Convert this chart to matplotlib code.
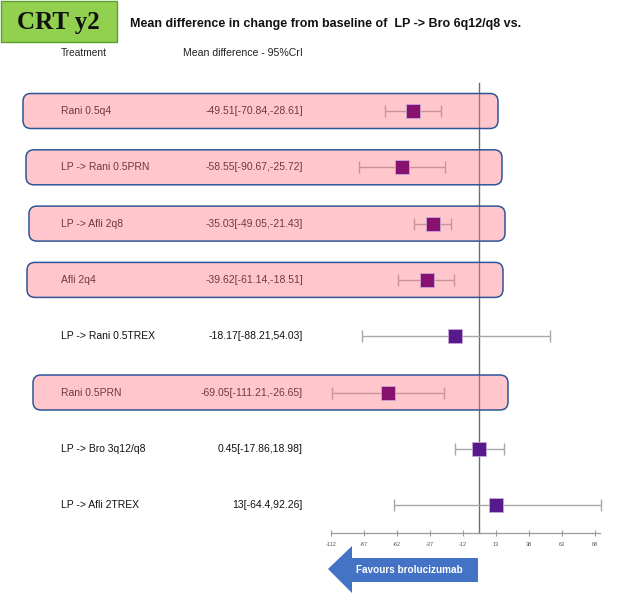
import matplotlib
matplotlib.use("Agg")
import matplotlib.pyplot as plt
import matplotlib.transforms as mtransforms
from matplotlib.patches import FancyBboxPatch, Rectangle, Polygon

# ---------------- data ----------------
treatments = ["Rani 0.5q4", "LP -> Rani 0.5PRN", "LP -> Afli 2q8", "Afli 2q4",
              "LP -> Rani 0.5TREX", "Rani 0.5PRN", "LP -> Bro 3q12/q8", "LP -> Afli 2TREX"]
means = [-49.51, -58.55, -35.03, -39.62, -18.17, -69.05, 0.45, 13]
lower = [-70.84, -90.67, -49.05, -61.14, -88.21, -111.21, -17.86, -64.4]
upper = [-28.61, -25.72, -21.43, -18.51, 54.03, -26.65, 18.98, 92.26]
value_labels = ["-49.51[-70.84,-28.61]", "-58.55[-90.67,-25.72]", "-35.03[-49.05,-21.43]",
                "-39.62[-61.14,-18.51]", "-18.17[-88.21,54.03]", "-69.05[-111.21,-26.65]",
                "0.45[-17.86,18.98]", "13[-64.4,92.26]"]
highlighted = [True, True, True, True, False, True, False, False]
xticks = [-112, -87, -62, -37, -12, 13, 38, 63, 88]
title = "Mean difference in change from baseline of  LP -> Bro 6q12/q8 vs."
badge = "CRT y2"
arrow_text = "Favours brolucizumab"

# ---------------- layout (pixels) ----------------
W, H = 631, 607
PX_PER_UNIT = 1.32
X0_PX = 331  # pixel of x = -112
ROW0_PX, ROW_STEP = 111, 56.3

fig = plt.figure(figsize=(W / 100, H / 100), dpi=100)
plt.rcParams['font.family'] = ['Liberation Sans', 'DejaVu Sans']
ax = fig.add_axes([0, 0, 1, 1])
ax.set_axis_off()
xmin = -112 - X0_PX / PX_PER_UNIT
xmax = -112 + (W - X0_PX) / PX_PER_UNIT
ax.set_xlim(xmin, xmax)
ax.set_ylim((H - ROW0_PX) / ROW_STEP, -ROW0_PX / ROW_STEP)

# pixel transform (x right, y down from top-left)
pix = mtransforms.Affine2D().scale(1, -1).translate(0, H)
row_tr = mtransforms.blended_transform_factory(mtransforms.IdentityTransform(), ax.transData)

def ypx(p):
    return (p - ROW0_PX) / ROW_STEP

n = len(treatments)
rows = list(range(n))

# vertical zero line
ax.plot([0, 0], [ypx(83), ypx(533)], color="#6e6e6e", lw=1.0, zorder=1)

# CI lines
for i in rows:
    ax.errorbar(means[i], i, xerr=[[means[i] - lower[i]], [upper[i] - means[i]]],
                fmt="none", ecolor="#a8a8a8", elinewidth=1.0, capsize=4.3,
                capthick=1.0, zorder=2)

# text
for i in rows:
    ax.text(61, i, treatments[i], transform=row_tr, ha="left", va="center",
            fontsize=7.5, color="#111111", zorder=2)
    ax.text(303, i, value_labels[i], transform=row_tr, ha="right", va="center",
            fontsize=7.5, color="#111111", zorder=2)

# pink highlight boxes (semi-transparent overlay)
box_x = {0: (23, 498), 1: (26, 502), 2: (29, 505), 3: (27, 503), 5: (33, 508)}
for i in rows:
    if highlighted[i]:
        x1, x2 = box_x[i]
        yc = ROW0_PX + ROW_STEP * i
        b = FancyBboxPatch((x1, H - (yc + 17.5)), x2 - x1, 35,
                           boxstyle="round,pad=0,rounding_size=8",
                           transform=mtransforms.IdentityTransform(),
                           facecolor=(1.0, 0.46, 0.50, 0.40), edgecolor="#2f5597",
                           lw=1.1, zorder=3)
        ax.add_patch(b)

# squares
for i in rows:
    c = "#86116f" if highlighted[i] else "#561a8c"
    ax.plot(means[i], i, marker="s", markersize=10, color=c,
            markeredgecolor="#c9a6d6", markeredgewidth=0.6, zorder=4, ls="none")

# x axis
ay = fig.add_axes([X0_PX / W, (H - 533) / H, (600 - X0_PX) / W, 1e-4])
ay.set_xlim(-112, -112 + (600 - X0_PX) / PX_PER_UNIT)
ay.set_yticks([])
for s in ["top", "left", "right"]:
    ay.spines[s].set_visible(False)
ay.spines["bottom"].set_color("#9a9a9a")
ay.spines["bottom"].set_linewidth(0.9)
ay.patch.set_alpha(0)
ay.set_xticks(xticks)
ay.set_xticklabels([str(t) for t in xticks])
ay.tick_params(axis="x", direction="inout", length=5, width=0.8, color="#9a9a9a",
               labelsize=4, labelcolor="#555555", pad=4)

# header texts
ax.text(61, 53, "Treatment", transform=pix, ha="left", va="center", fontsize=7.3, color="#222222")
ax.text(183, 53, "Mean difference - 95%CrI", transform=pix, ha="left", va="center",
        fontsize=7.6, color="#222222")
ax.text(130, 24, title, transform=pix, ha="left", va="center", fontsize=9,
        fontweight="bold", color="#111111")

# badge
ax.add_patch(Rectangle((1, H - 42), 116, 41, transform=mtransforms.IdentityTransform(),
                       facecolor="#92d050", edgecolor="#5aa02c", lw=1.0, zorder=5))
ax.text(58, 22, badge, transform=pix, ha="center", va="center", fontsize=18,
        fontweight="bold", family=["Liberation Serif", "DejaVu Serif"], color="#111111", zorder=6)

# arrow
arrow_pts = [(328, 569), (352, 546), (352, 558), (478, 558), (478, 582), (352, 582), (352, 593)]
ax.add_patch(Polygon(arrow_pts, closed=True, transform=pix, facecolor="#4472c4",
                     edgecolor="none", zorder=5))
ax.text(409, 570, arrow_text, transform=pix, ha="center", va="center", fontsize=7.2,
        fontweight="bold", color="white", zorder=6)

fig.savefig("out.png", dpi=100)
